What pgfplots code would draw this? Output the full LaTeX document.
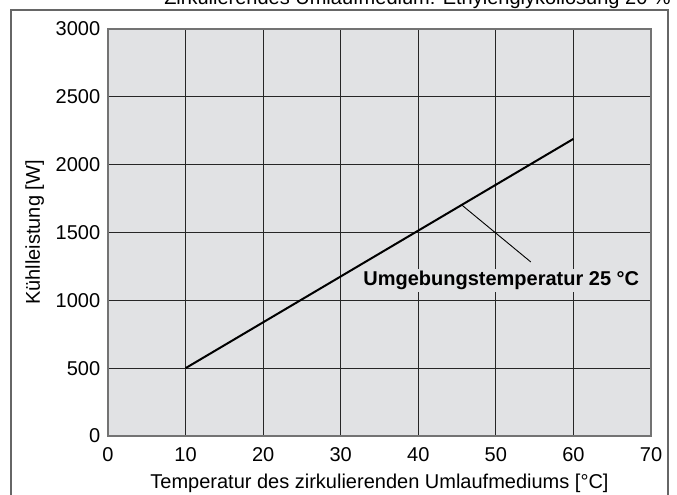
\documentclass[border=0pt]{standalone}
\usepackage{pgfplots}
\pgfplotsset{compat=1.18}
\usepackage{fontspec}
\setmainfont{Liberation Sans}
\definecolor{bg}{HTML}{E1E2E4}
\begin{document}
\fontsize{20}{24}\selectfont
\begin{tikzpicture}[x=1pt,y=1pt]
\path[use as bounding box] (0,0) rectangle (677,495);
\draw[line width=1.2pt, color=black!60] (11,-5) -- (11,485) -- (668,485) -- (668,-5);
\node[anchor=base east, inner sep=0pt] at (671,490) {Zirkulierendes Umlaufmedium: Ethylenglykollösung 20 \%};
\begin{axis}[
  at={(108pt,59pt)}, anchor=south west,
  width=543pt, height=407pt, scale only axis,
  xmin=0, xmax=70, ymin=0, ymax=3000,
  xtick={0,10,...,70}, ytick={0,500,...,3000},
  grid=major,
  major grid style={black!85, line width=0.8pt},
  axis background/.style={fill=bg},
  axis line style={black!55, line width=1.5pt},
  tick style={draw=none},
  /pgf/number format/assume math mode=true,
  /pgf/number format/1000 sep={},
  ticklabel style={font=\fontsize{20}{24}\selectfont},
  label style={font=\fontsize{20}{24}\selectfont},
  xticklabel style={yshift=-5pt},
  yticklabel style={xshift=-1pt},
  xlabel={Temperatur des zirkulierenden Umlaufmediums [°C]},
  ylabel={Kühlleistung [W]},
  xlabel style={yshift=2pt},
  ylabel style={yshift=-2pt},
]
\addplot[black, line width=2pt] coordinates {(10,500) (60,2190)};
\draw[black, line width=0.9pt] (axis cs:45.6,1703) -- (axis cs:54.5,1283);
\node[fill=bg, inner sep=2pt, font=\fontsize{20}{24}\selectfont\bfseries] at (axis cs:50.7,1145) {Umgebungstemperatur 25 °C};
\end{axis}
\end{tikzpicture}
\end{document}
